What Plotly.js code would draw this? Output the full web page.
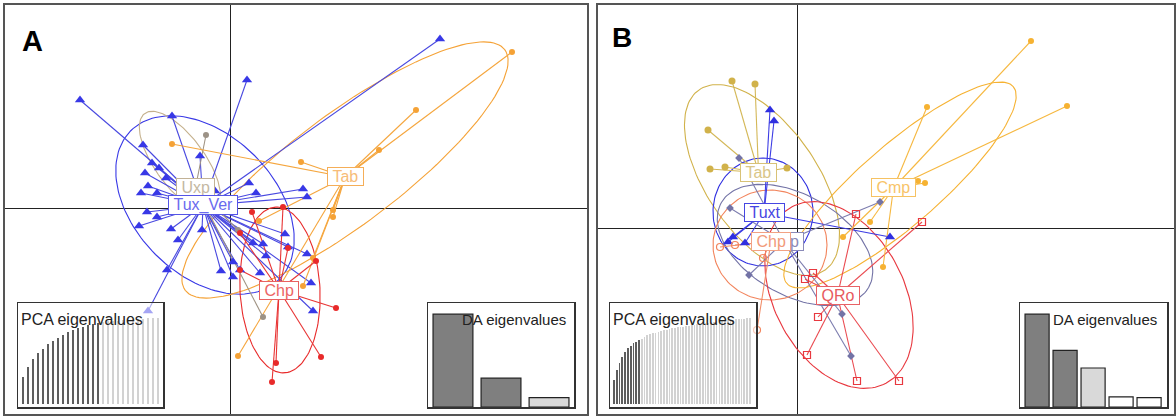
<!DOCTYPE html>
<html><head><meta charset="utf-8">
<script src="https://cdn.plot.ly/plotly-3.0.1.min.js"></script>
<style>html,body{margin:0;padding:0;background:#fff}#chart{width:1176px;height:416px}</style>
</head><body><div id="chart"></div>
<script>
// ---------------- Panel A : DA scores (LD1, LD2) ----------------
const tuxVerA_x = [-3.00,0.34,4.20,-1.16,-1.74,-0.60,-1.56,-1.42,-1.70,-1.28,-1.64,-1.78,-1.46,-0.30,0.38,0.52,1.46,1.54,-1.66,-1.46,-1.82,-1.18,-0.56,-1.04,-1.26,-0.18,0.06,0.06,-1.64,1.10,0.46,0.66,0.72,1.54,1.62,1.66,1.16,0.60,0.20];
const tuxVerA_y = [2.16,2.56,3.38,1.84,1.26,1.04,0.90,0.80,0.70,0.60,0.44,0.30,0.30,0.34,0.50,0.30,0.38,0.22,-0.08,-0.18,-0.36,-0.42,-0.44,-0.64,-1.24,-1.26,-1.08,-1.38,-2.06,-0.52,-0.70,-0.72,-0.96,-0.92,-1.50,-2.06,-0.78,-1.30,-1.24];
const uxpA_x = [-0.48,0.66,0.16];
const uxpA_y = [1.46,-2.18,-0.44];
const tabA_x = [5.64,3.72,2.98,1.42,-1.16,2.06,2.06,1.66,1.46,0.16,0.58];
const tabA_y = [3.12,1.96,1.16,0.92,1.28,-0.04,-0.18,-1.00,-1.56,-2.96,-0.26];
const chpA_x = [0.44,1.06,1.72,2.12,1.82,0.92,0.84,0.20,1.16,0.20];
const chpA_y = [-0.08,0.02,-1.06,-2.00,-2.98,-3.10,-3.48,-0.50,-0.80,-1.24];
const groupsA = ["Tux_Ver","Uxp","Tab","Chp"];
const centroidA_x = [-0.54,-0.69,2.30,0.98];
const centroidA_y = [0.05,0.41,0.62,-1.64];
// ellipse: centre x, centre y, semi-axis a, semi-axis b, angle (deg)
const ellipseA = [[-0.50,0.06,2.1,1.4,-45],[-1.00,0.92,1.2,0.5,-54],[2.30,0.76,4.0,1.1,37],[1.00,-1.64,1.66,0.8,93]];
const pcaEigA = [31,43,52,59,64,70,73,77,80,84,86,88,90,92,93,94,95,96,96.5,97,97.5,98,98.5,99,99.3,99.6,99.8,100];
const pcaKeptA = 16;
const daEigA = [100,31,10];
const daKeptA = 2;

// ---------------- Panel B ----------------
const tabB_x = [-1.30,-0.84,-1.78,-1.74,-1.44,-0.20];
const tabB_y = [2.94,2.88,1.96,1.18,1.22,1.20];
const tuxtB_x = [-0.54,-0.46,-1.28,1.86,-1.04,-1.38];
const tuxtB_y = [2.36,2.14,-0.18,-0.18,-0.30,-0.28];
const uxpB_x = [-1.16,-1.34,-0.96,1.66,0.90,1.08];
const uxpB_y = [1.40,0.40,-0.94,0.52,-1.72,-2.56];
const chpB_x = [-0.80,-1.24,-0.68,-1.54];
const chpB_y = [-2.04,-0.34,-0.60,-0.38];
const qroB_x = [1.18,2.50,0.32,0.16,0.42,0.20,1.20,2.04];
const qroB_y = [0.28,0.12,-0.90,-1.02,-1.78,-2.54,-3.06,-3.06];
const cmpB_x = [4.68,5.40,2.60,2.42,2.56,1.72,1.46,0.92];
const cmpB_y = [3.74,2.44,2.42,0.94,0.90,-0.78,0.12,-0.18];
const groupsB = ["Tab","Tuxt","Uxp","Chp","QRo","Cmp"];
const centroidB_x = [-0.77,-0.66,-0.26,-0.52,0.81,1.93];
const centroidB_y = [1.11,0.30,-0.27,-0.27,-1.35,0.80];
const ellipseB = [[-0.70,0.96,2.2,1.1,-55],[-0.68,0.32,1.08,1.0,90],[-0.04,-0.34,1.7,1.0,-30],[-0.54,-0.34,1.14,1.1,0],[0.84,-1.34,2.0,1.3,-62],[2.06,0.86,3.0,0.8,41]];
const pcaEigB = [28,40,48,55,60,65,67,71,72,74,76,78,80,81,82,83,84,85,86,86.5,87,88,88.5,89,89.5,90,90.5,91,91.5,92,92.5,93,93.5,94,94.5,95,95.5,96,96.3,96.6,97,97.3,97.6,98,98.3,98.6,99,99.3,99.6,100];
const pcaKeptB = 10;
const daEigB = [100,61,42,11,10];
const daKeptB = 3;

// ---------------- styles ----------------
const FONT = "Liberation Sans, Arial, sans-serif";
const styleA = [
  {col:'#3838E6', line:'#4848E0', sym:'triangle-up', size:9, txt:'#6A6AEE', box:'#5555E6'},
  {col:'#9C9286', line:'#A09484', sym:'circle', size:6, txt:'#C4B8A2', box:'#C2B296', ell:'#C4B08C'},
  {col:'#F5A236', line:'#F5A63E', sym:'circle', size:6, txt:'#F7BC78', box:'#F5AE58'},
  {col:'#E82A2A', line:'#E83434', sym:'circle', size:6, txt:'#EC6464', box:'#E86262'}
];
const styleB = [
  {col:'#D1B24A', line:'#D4B858', sym:'circle', size:7, txt:'#D9C688', box:'#D8C276'},
  {col:'#2F2FE0', line:'#3C3CE4', sym:'triangle-up', size:9, txt:'#4646E2', box:'#4646E2'},
  {col:'#7373A6', line:'#7C7CAE', sym:'diamond', size:6, txt:'#8A8AB8', box:'#8A8AB8'},
  {col:'#F2845C', line:'#F28E6A', sym:'circle-open', size:7, txt:'#F29A7A', box:'#F2A284'},
  {col:'#E8383F', line:'#EA4A50', sym:'square-open', size:7, txt:'#E85A5E', box:'#E86266'},
  {col:'#F6B232', line:'#F6B840', sym:'circle', size:6, txt:'#F8C468', box:'#F6C262'}
];

const W = 1176, H = 416;
const dX = (a,b)=>[a/W,b/W];
const dY = (top,bot)=>[1-bot/H,1-top/H];

const rng = {
  x:[-4.5,7.14], y:[-4.12,4.06], x2:[-3.98,7.54], y2:[-3.72,4.46],
  x3:[0,29], y3:[-3.5,117.4], x4:[0.48,3.52], y4:[0,112],
  x5:[-0.44,52.2], y5:[-3.5,117.4], x6:[0.39,5.64], y6:[0,112]
};

function ellipse(p){
  const [cx,cy,a,b,ang]=p, t=ang*Math.PI/180, X=[], Y=[];
  for(let k=0;k<=144;k++){const s=2*Math.PI*k/144,u=a*Math.cos(s),v=b*Math.sin(s);
    X.push(cx+u*Math.cos(t)-v*Math.sin(t)); Y.push(cy+u*Math.sin(t)+v*Math.cos(t));}
  return {X,Y};
}
function star(cx,cy,xs,ys){const X=[],Y=[];xs.forEach((x,i)=>{X.push(cx,x,null);Y.push(cy,ys[i],null);});return {X,Y};}

const traces = [];
function panel(xa, ya, pts, cx, cy, ells, styles){
  ells.forEach((e,i)=>{const E=ellipse(e);traces.push({x:E.X,y:E.Y,xaxis:xa,yaxis:ya,mode:'lines',type:'scatter',line:{color:styles[i].ell||styles[i].col,width:1.1},hoverinfo:'skip'});});
  pts.forEach((p,i)=>{const S=star(cx[i],cy[i],p[0],p[1]);traces.push({x:S.X,y:S.Y,xaxis:xa,yaxis:ya,mode:'lines',type:'scatter',line:{color:styles[i].line,width:1.1},hoverinfo:'skip'});});
  pts.forEach((p,i)=>{const s=styles[i];traces.push({x:p[0],y:p[1],xaxis:xa,yaxis:ya,mode:'markers',type:'scatter',marker:{symbol:s.sym,size:s.size,color:s.col,line:{width:s.sym.indexOf('open')>=0?1.2:0,color:s.col}},hoverinfo:'skip'});});
}
panel('x','y',[[tuxVerA_x,tuxVerA_y],[uxpA_x,uxpA_y],[tabA_x,tabA_y],[chpA_x,chpA_y]],centroidA_x,centroidA_y,ellipseA,styleA);
panel('x2','y2',[[tabB_x,tabB_y],[tuxtB_x,tuxtB_y],[uxpB_x,uxpB_y],[chpB_x,chpB_y],[qroB_x,qroB_y],[cmpB_x,cmpB_y]],centroidB_x,centroidB_y,ellipseB,styleB);

// translucent white background of each inset, drawn as a full-size bar before the eigenvalue bars
function insetBg(n){
  const xr=rng['x'+n], yr=rng['y'+n];
  traces.push({type:'bar',x:[(xr[0]+xr[1])/2],y:[yr[1]-yr[0]],base:[yr[0]],width:[xr[1]-xr[0]],
    xaxis:'x'+n,yaxis:'y'+n,marker:{color:'rgba(255,255,255,0.55)',line:{width:0}},hoverinfo:'skip'});
}
function pcaBars(n,vals,kept,w){
  insetBg(n);
  traces.push({type:'bar',x:vals.map((v,i)=>i+1),y:vals,xaxis:'x'+n,yaxis:'y'+n,width:w,
    marker:{color:vals.map((v,i)=>i<kept?'#5E5E5E':'#D2D2D2'),line:{width:0}},hoverinfo:'skip'});
}
function daBars(n,vals,kept,w){
  insetBg(n);
  const cols = vals.map((v,i)=> i<kept-1 ? '#7F7F7F' : (i===kept-1 ? (kept===2?'#7F7F7F':'#D9D9D9') : (kept===2?'#D9D9D9':'#FFFFFF')));
  traces.push({type:'bar',x:vals.map((v,i)=>i+1),y:vals,xaxis:'x'+n,yaxis:'y'+n,width:w,
    marker:{color:cols,line:{width:1.2,color:'#222'}},hoverinfo:'skip'});
}
pcaBars(3,pcaEigA,pcaKeptA,0.5);
daBars(4,daEigA,daKeptA,0.83);
pcaBars(5,pcaEigB,pcaKeptB,0.62);
daBars(6,daEigB,daKeptB,0.86);

const mainAx = (dom,range,anchor)=>({domain:dom,range:range,anchor:anchor,showline:true,mirror:true,linecolor:'#555',linewidth:2,showgrid:false,zeroline:true,zerolinecolor:'#222',zerolinewidth:1,showticklabels:false,ticks:'',fixedrange:true});
const insAx = (dom,range,anchor)=>({domain:dom,range:range,anchor:anchor,showline:true,mirror:true,linecolor:'#333',linewidth:1.5,showgrid:false,zeroline:false,showticklabels:false,ticks:'',fixedrange:true});

const annotations = [];
const NB = '\u00A0';
function labels(xa,ya,names,cx,cy,styles,order){
  order.forEach(i=>annotations.push({x:cx[i],y:cy[i],xref:xa,yref:ya,text:NB+names[i]+NB,showarrow:false,
    font:{family:FONT,size:16,color:styles[i].txt},bgcolor:'#FFFFFF',bordercolor:styles[i].box,borderwidth:1,borderpad:0}));
}
// Uxp label lies beneath the Tux_Ver (A) and Chp (B) labels
labels('x','y',groupsA,centroidA_x,centroidA_y,styleA,[1,0,2,3]);
labels('x2','y2',groupsB,centroidB_x,centroidB_y,styleB,[0,1,2,3,4,5]);

function ptext(txt,x,y,anchor,size,bold){
  annotations.push({xref:'paper',yref:'paper',x:x/W,y:1-y/H,xanchor:anchor,yanchor:'middle',text:bold?'<b>'+txt+'</b>':txt,showarrow:false,font:{family:FONT,size:size,color:bold?'#000':'#222'}});
}
ptext('A',20,41,'left',29,true);
ptext('B',610,37,'left',28,true);
ptext('PCA eigenvalues',19,319,'left',16,false);
ptext('PCA eigenvalues',611,319,'left',16,false);
ptext('DA eigenvalues',568,319,'right',15,false);
ptext('DA eigenvalues',1159,319,'right',15,false);

const layout = {
  width:W,height:H,margin:{l:0,r:0,t:0,b:0},paper_bgcolor:'#fff',plot_bgcolor:'rgba(0,0,0,0)',showlegend:false,hovermode:false,
  xaxis:mainAx(dX(5,587),rng.x,'y'), yaxis:mainAx(dY(5,414),rng.y,'x'),
  xaxis2:mainAx(dX(598,1174),rng.x2,'y2'), yaxis2:mainAx(dY(5,414),rng.y2,'x2'),
  xaxis3:insAx(dX(18,163),rng.x3,'y3'), yaxis3:insAx(dY(303,407),rng.y3,'x3'),
  xaxis4:insAx(dX(428,574),rng.x4,'y4'), yaxis4:insAx(dY(303,407),rng.y4,'x4'),
  xaxis5:insAx(dX(610,756),rng.x5,'y5'), yaxis5:insAx(dY(303,407),rng.y5,'x5'),
  xaxis6:insAx(dX(1020,1167),rng.x6,'y6'), yaxis6:insAx(dY(303,407),rng.y6,'x6'),
  annotations:annotations, barmode:'overlay', bargap:0
};
Plotly.newPlot('chart',traces,layout,{displayModeBar:false,staticPlot:true});
</script></body></html>
